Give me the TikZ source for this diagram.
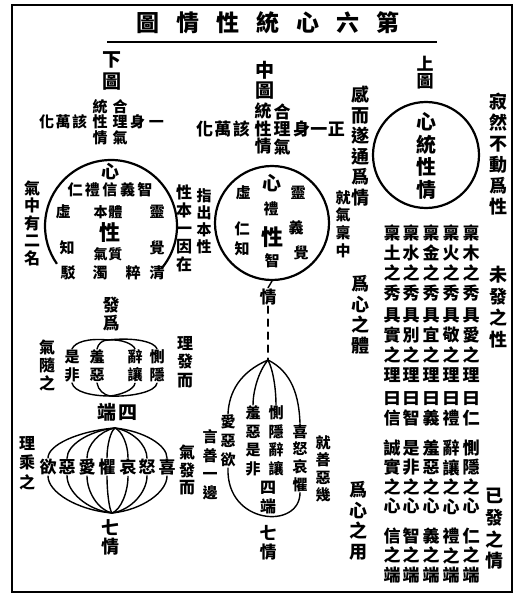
\documentclass[tikz,border=0pt]{standalone}
\usepackage{fontspec}
\newfontfamily\cjk{Noto Sans CJK TC}
\tikzset{
  ch/.style={inner sep=0pt, outer sep=1pt, align=center, font=\cjk\bfseries\fontsize{15}{18}\selectfont},
  fs/.style 2 args={font=\cjk\bfseries\fontsize{#1}{#2}\selectfont},
  ln/.style={line width=1.4pt, line cap=round},
  ring/.style={draw, circle, line width=2.2pt, inner sep=0pt},
  frame/.style={line width=2pt},
}
\begin{document}
\begin{tikzpicture}[x=1pt,y=-1pt]
\useasboundingbox (0,0) rectangle (519,596);
\draw[frame] (12,5) rectangle (512,592);
% title
\node[ch,fs={23}{23}] (title) at (268,23) {圖\hspace{17pt}情\hspace{17pt}性\hspace{17pt}統\hspace{17pt}心\hspace{17pt}六\hspace{17pt}第};
\draw[line width=2pt] (107,42) -- (437,42);

% ---------- upper diagram
\node[ch,fs={17}{17}] (sht) at (425,73) {上\\圖};
\node[ring, minimum size=106pt] (ucirc) at (426,155) {};
\node[ch,fs={20}{22.7}] (u1) at (426,156) {心\\統\\性\\情};
\node[ch,fs={18}{21}] (u2) at (498,154) {寂\\然\\不\\動\\爲\\性};
\node[ch,fs={18}{20.6}] (u3) at (360,146) {感\\而\\遂\\通\\爲\\情};
\node[ch,fs={18}{21.5}] (u4) at (498,307) {未\\發\\之\\性};
\node[ch,fs={18}{21.7}] (u5) at (494,529) {已\\發\\之\\情};
% five columns
\foreach \x/\a/\b/\c/\d/\e/\f in {471/木/愛/仁/惻/隱/仁, 451/火/敬/禮/辭/讓/禮, 431/金/宜/義/羞/惡/義, 411/水/別/智/是/非/智, 392/土/實/信/誠/實/信}{
  \node[ch,fs={17}{20}] (ra\x) at (\x,325.5) {稟\\\a\\之\\秀\\[2pt]具\\\b\\之\\理\\[3pt]曰\\\c};
  \node[ch,fs={17}{19.5}] (rb\x) at (\x,511.5) {\d\\\e\\之\\心\\[10pt]\f\\之\\端};
}

% ---------- middle diagram
\node[ch,fs={19}{20}] (zt) at (265,80) {中\\圖};
\node[ch,fs={17}{17.5}] (m1) at (263,129) {統\\性\\情};
\node[ch,fs={17}{17.5}] (m2) at (282,129) {合\\理\\氣};
\node[ch,fs={17}{17}] (m3) at (223,129) {化\hspace{1.5pt}萬\hspace{1.5pt}該};
\node[ch,fs={17}{17}] (m4) at (319,129) {身\hspace{0.5pt}一\hspace{0.5pt}正};
\node[ring, minimum size=114pt] (mc) at (272,223) {};
\node[ch,fs={19}{19}] (mx) at (272,183) {心};
\node[ch] (mxu) at (243,193) {虛};
\node[ch] (mling) at (298,193) {靈};
\node[ch] (mli) at (271,209) {禮};
\node[ch] (mren) at (242,229) {仁};
\node[ch,fs={22}{22}] (mxing) at (272,237) {性};
\node[ch] (myi) at (296,228) {義};
\node[ch] (mzhi) at (242,249) {知};
\node[ch] (mjue) at (301,253) {覺};
\node[ch] (mzh) at (272,261) {智};
\node[ch,fs={15}{17}] (mzc) at (204,221) {指\\出\\本\\性};
\node[ch,fs={15}{17.7}] (mjq) at (343,224) {就\\氣\\稟\\中};
\node[ch,fs={17}{17}] (mq) at (268,297) {情};
\coordinate (mA) at (268,360);
\draw[ln] (mc.south) -- (mq.north);
\draw[ln, dash pattern=on 7pt off 6pt] (mq.south) -- (mA);
\node[ch,fs={15}{18.5}] (mce) at (276,441) {惻\\隱\\辭\\讓};
\node[ch,fs={15}{18.5}] (mxe) at (253,441) {羞\\惡\\是\\非};
\node[ch,fs={15}{19}] (may) at (228,441) {愛\\惡\\欲};
\node[ch,fs={15}{17.7}] (mxn) at (300,458) {喜\\怒\\哀\\懼};
\node[ch,fs={16}{19}] (msd) at (268,498) {四\\端};
\node[ch,fs={17}{19}] (mqq) at (268,543) {七\\情};
\node[ch,fs={15}{17.5}] (mjy) at (323,469) {就\\善\\惡\\幾};
\node[ch,fs={15}{18.5}] (myy) at (210,465) {言\\善\\一\\邊};
\node[ch,fs={18}{20.5}] (mti) at (360,315) {爲\\心\\之\\體};
\node[ch,fs={18}{20.5}] (myo) at (358,521) {爲\\心\\之\\用};
\draw[ln] (mA) .. controls (240,372) and (229,392) .. (may.north);
\draw[ln] (mA) .. controls (292,372) and (299,396) .. (mxn.north);
\draw[ln] (mA) .. controls (274,372) and (276,392) .. (mce.north);
\draw[ln] (mA) .. controls (258,372) and (253,392) .. (mxe.north);
\draw[ln] (may.south) .. controls (226,525) and (300,530) .. (mxn.south);

% ---------- lower diagram
\node[ch,fs={19}{22}] (xt) at (112,71) {下\\圖};
\node[ch,fs={15}{15.5}] (l1) at (100,122) {統\\性\\情};
\node[ch,fs={15}{15.5}] (l2) at (120,122) {合\\理\\氣};
\node[ch,fs={15}{15}] (l3) at (63,122) {化\hspace{1.5pt}萬\hspace{1.5pt}該};
\node[ch,fs={15}{15}] (l4) at (147,122) {身\hspace{4pt}一};
\coordinate (lc) at (111,226);
\draw[line width=2.2pt] (lc) ++(40:66) arc[start angle=40, end angle=-215, radius=66];
\node[ch,fs={18}{18}] (lx) at (110,172) {心};
\node[ch,fs={15}{15}] (lrow) at (110,190) {仁\hspace{2.5pt}禮\hspace{2.5pt}信\hspace{2.5pt}義\hspace{2.5pt}智};
\node[ch] (lxu) at (63,212) {虛};
\node[ch,fs={14}{14}] (lbt) at (108,212) {本\hspace{1pt}體};
\node[ch] (lling) at (157,212) {靈};
\node[ch,fs={21}{21}] (lxing) at (110,233) {性};
\node[ch] (lzhi) at (67,248) {知};
\node[ch] (ljue) at (157,248) {覺};
\node[ch,fs={14}{14}] (lqz) at (108,254) {氣\hspace{1pt}質};
\foreach \c/\x in {駁/68, 濁/100, 粹/133, 清/157}{\node[ch] (lb\x) at (\x,273) {\c};}
\node[ch,fs={16}{17.5}] (lq1) at (32,223) {氣\\中\\有\\二\\名};
\node[ch,fs={16}{18}] (lq2) at (184,228) {性\\本\\一\\因\\在};
\node[ch,fs={17}{18}] (lfw) at (111,314) {發\\爲};
\coordinate (T) at (108,340);
\coordinate (B) at (110,396);
\foreach \n/\x/\a/\b in {ls/72/是/非, lx/97/羞/惡, lc/135/辭/讓, lce/157/惻/隱}{
  \node[ch,fs={15}{18}] (\n) at (\x,366) {\a\\\b};
}
\draw[ln] (T) .. controls (88,338) and (75,342) .. (ls.north);
\draw[ln] (T) .. controls (102,340) and (98,344) .. (lx.north);
\draw[ln] (T) .. controls (122,339) and (133,344) .. (lc.north);
\draw[ln] (T) .. controls (135,337) and (155,342) .. (lce.north);
\draw[ln] (ls.south) .. controls (74,392) and (92,396) .. (B);
\draw[ln] (lx.south) .. controls (98,390) and (104,395) .. (B);
\draw[ln] (lc.south) .. controls (134,390) and (120,395) .. (B);
\draw[ln] (lce.south) .. controls (156,392) and (130,397) .. (B);
\node[ch,fs={19}{19}] (lsd) at (117.5,412) {端\hspace{2pt}四};
\node[ch,fs={16}{18}] (lsz) at (47,365) {氣\\隨\\之};
\node[ch,fs={16}{18.5}] (lff) at (185,362) {理\\發\\而};
\coordinate (T2) at (115,428);
\coordinate (B2) at (112,513);
\foreach \c/\x [count=\i] in {欲/48,惡/67,愛/87,懼/107,哀/128,怒/147,喜/167}{
  \node[ch,fs={17}{17}] (s\i) at (\x,467) {\c};
  \draw[ln] (T2) .. controls ({115+0.55*(\x-115)},431) and (\x,445) .. (s\i.north);
  \draw[ln] (s\i.south) .. controls (\x,492) and ({112+0.55*(\x-112)},510) .. (B2);
}
\node[ch,fs={18}{19}] (lqq) at (110,537) {七\\情};
\node[ch,fs={16}{19.5}] (llc) at (27,463) {理\\乘\\之};
\node[ch,fs={16}{17.5}] (lqf) at (187,470) {氣\\發\\而};
\end{tikzpicture}
\end{document}
